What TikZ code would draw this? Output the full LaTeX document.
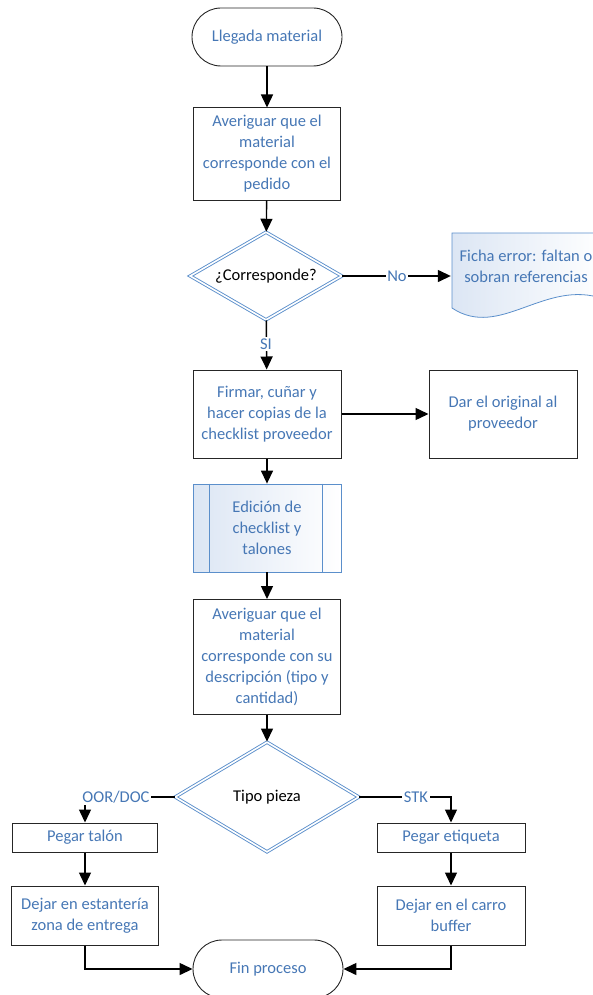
\documentclass[tikz,border=0pt]{standalone}
\usepackage{fontspec}
\setmainfont{Carlito}
\usetikzlibrary{shapes.geometric,arrows.meta}
\definecolor{txtblue}{HTML}{4677B5}
\definecolor{lineblue}{HTML}{5B8FCB}
\definecolor{paleblue}{HTML}{DCE6F4}
\begin{document}
\begin{tikzpicture}[x=1pt,y=-1pt,
  every node/.style={font=\fontsize{16.5}{21}\selectfont, align=center, inner sep=0pt},
  term/.style={draw=black!85, line width=0.9pt, rounded corners=29pt,
    minimum width=150pt, minimum height=58pt, text=txtblue},
  proc/.style={draw=black!85, line width=1pt, text=txtblue},
  decision/.style={diamond, aspect=1.7, draw=lineblue, double=white, double distance=1.6pt,
    line width=0.9pt, text=black},
  flow/.style={line width=1.4pt, -{Triangle[width=12pt,length=13pt]}},
  lbl/.style={fill=white, text=txtblue, inner sep=1.5pt}
]
\useasboundingbox (0,0) rectangle (592,995);

% start
\node[term] (start) at (267,37) {Llegada material};
\node[proc, minimum width=147pt, minimum height=92pt] (b1) at (267,154)
  {Averiguar que el\\material\\corresponde con el\\pedido};
\node[decision, minimum width=152pt, minimum height=88pt] (d1) at (266,276) {¿Corresponde?};

% document shape for the error sheet
\shadedraw[draw=lineblue, line width=0.8pt, left color=paleblue, right color=white]
  (452,233) -- (604,233) -- (604,299)
  .. controls (545,278) and (500,340) .. (452,308) -- cycle;
\node[minimum width=150pt, minimum height=75pt, text=txtblue] (doc) at (526,266)
  {Ficha error: faltan o\\sobran referencias};

\node[proc, minimum width=148pt, minimum height=88pt] (b2) at (267,414)
  {Firmar, cuñar y\\hacer copias de la\\checklist proveedor};
\node[proc, minimum width=148pt, minimum height=88pt] (b3) at (503,414)
  {Dar el original al\\proveedor};

% predefined process
\node[minimum width=148pt, minimum height=88pt, draw=lineblue, line width=0.8pt,
  left color=paleblue, right color=white, text=txtblue] (pred) at (267,528)
  {Edición de\\checklist y\\talones};
\draw[lineblue, line width=0.8pt] ([xshift=17pt]pred.north west) -- ([xshift=17pt]pred.south west);
\draw[lineblue, line width=0.8pt] ([xshift=-19pt]pred.north east) -- ([xshift=-19pt]pred.south east);

\node[proc, minimum width=147pt, minimum height=115pt] (b4) at (267,657)
  {Averiguar que el\\material\\corresponde con su\\descripción (tipo y\\cantidad)};
\node[decision, minimum width=184pt, minimum height=110pt] (d2) at (267,797) {Tipo pieza};

\node[proc, minimum width=145pt, minimum height=29pt] (talon) at (85,837.5) {Pegar talón};
\node[proc, minimum width=148pt, minimum height=29pt] (etiq) at (451,837.5) {Pegar etiqueta};
\node[proc, minimum width=147pt, minimum height=59pt] (est) at (85,915.5)
  {Dejar en estantería\\zona de entrega};
\node[proc, minimum width=148pt, minimum height=59pt] (carro) at (451,915.5)
  {Dejar en el carro\\buffer};
\node[term] (fin) at (268,969) {Fin proceso};

% connectors
\draw[flow] (start) -- (b1);
\draw[flow] (b1) -- (d1);
\draw[flow] (d1.east) -- (d1.east -| doc.west);
\node[lbl] (no) at (397,276) {No};
\draw[flow] (d1) -- (b2);
\node[lbl] (si) at (266,344) {SI};
\draw[flow] (b2) -- (b3);
\draw[flow] (b2) -- (pred);
\draw[flow] (pred) -- (b4);
\draw[flow] (b4) -- (d2);
\draw[flow] (d2.west) -| (talon.north);
\node[lbl] (oor) at (116,797) {OOR/DOC};
\draw[flow] (d2.east) -| (etiq.north);
\node[lbl] (stk) at (416,797) {STK};
\draw[flow] (talon) -- (est);
\draw[flow] (etiq) -- (carro);
\draw[flow] (est.south) |- (fin.west);
\draw[flow] (carro.south) |- (fin.east);
\end{tikzpicture}
\end{document}
